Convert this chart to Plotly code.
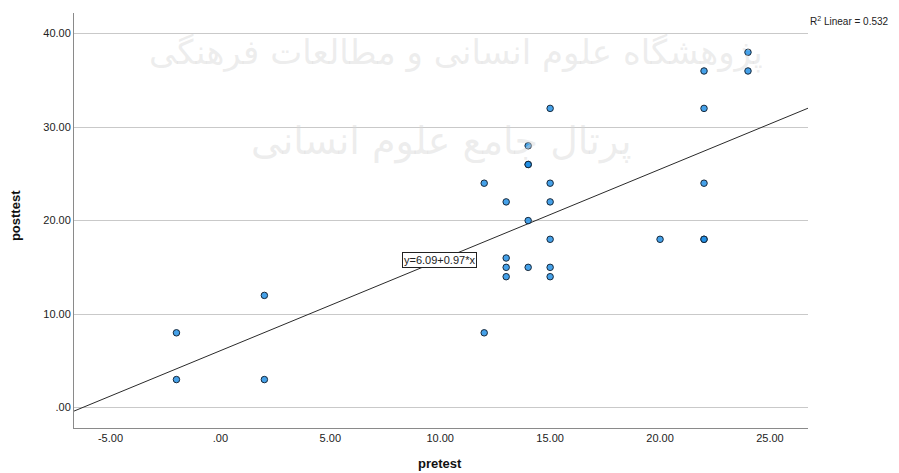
import plotly.graph_objects as go

# data
pretest = [-2, -2, 2, 2, 12, 12, 13, 13, 13, 13, 14, 14, 14, 14, 14, 15, 15, 15, 15, 15, 15,
           20, 22, 22, 22, 22, 22, 24, 24]
posttest = [8, 3, 12, 3, 8, 24, 16, 15, 14, 22, 15, 20, 26, 26, 28, 15, 14, 18, 22, 24, 32,
            18, 18, 18, 24, 32, 36, 36, 38]
intercept = 6.09
slope = 0.97
r2_text = "0.532"
x_ticks = [-5, 0, 5, 10, 15, 20, 25]
x_tick_labels = ["-5.00", ".00", "5.00", "10.00", "15.00", "20.00", "25.00"]
y_ticks = [0, 10, 20, 30, 40]
y_tick_labels = [".00", "10.00", "20.00", "30.00", "40.00"]
x_range = [-6.66, 26.73]
y_range = [-2.18, 42.2]

fig = go.Figure()

line_x = [x_range[0], x_range[1]]
line_y = [intercept + slope * v for v in line_x]
fig.add_trace(go.Scatter(x=line_x, y=line_y, mode="lines",
                         line=dict(color="#2a2a2a", width=1), showlegend=False,
                         hoverinfo="skip"))

fig.add_trace(go.Scatter(x=pretest, y=posttest, mode="markers",
                         marker=dict(size=6.5, color="rgba(28,140,228,0.82)",
                                     line=dict(color="#17283a", width=1)),
                         showlegend=False))

font_main = "Liberation Sans, Arial, sans-serif"

fig.update_layout(
    width=891, height=465,
    margin=dict(l=66, r=91, t=5, b=45, autoexpand=False),
    paper_bgcolor="white", plot_bgcolor="white",
    font=dict(family=font_main, size=11, color="#222"),
    xaxis=dict(range=x_range, tickvals=x_ticks, ticktext=x_tick_labels, automargin=False,
               showgrid=False, zeroline=False, showline=True, linecolor="#8a8a8a",
               linewidth=1, ticks="", tickfont=dict(size=11, color="#222")),
    yaxis=dict(range=y_range, tickvals=y_ticks, ticktext=y_tick_labels, automargin=False,
               showgrid=True, gridcolor="#c9c9c9", gridwidth=1, zeroline=False,
               showline=True, linecolor="#8a8a8a", linewidth=1, ticks="",
               tickfont=dict(size=11, color="#222")),
)

# axis titles
fig.add_annotation(xref="paper", yref="paper", x=0.4986, y=-0.085, xanchor="center",
                   yanchor="middle", text="<b>pretest</b>", showarrow=False,
                   font=dict(size=13, color="#111"))
fig.add_annotation(xref="paper", yref="paper", x=-0.0804, y=0.513, xanchor="center",
                   yanchor="middle", text="<b>posttest</b>", textangle=-90, showarrow=False,
                   font=dict(size=13, color="#111"))

# watermark (faint)
fig.add_annotation(xref="paper", yref="paper", x=0.52, y=0.96,
                   text="پژوهشگاه علوم انسانی و مطالعات فرهنگی", showarrow=False,
                   font=dict(family="DejaVu Sans", size=34, color="rgba(215,215,215,0.45)"))
fig.add_annotation(xref="paper", yref="paper", x=0.5, y=0.75,
                   text="پرتال جامع علوم انسانی", showarrow=False,
                   font=dict(family="DejaVu Sans", size=38, color="rgba(215,215,215,0.45)"))

fig.add_annotation(x=9.95, y=15.75, text="y=6.09+0.97*x", showarrow=False,
                   bgcolor="white", bordercolor="#222", borderwidth=1, borderpad=1,
                   font=dict(size=11, color="#222"))

fig.add_annotation(xref="paper", yref="paper", x=1.0, y=0.98, xanchor="left", yanchor="middle",
                   text="R<sup>2</sup> Linear = " + r2_text, showarrow=False,
                   font=dict(size=10, color="#222"))

fig.write_html("out.html")
